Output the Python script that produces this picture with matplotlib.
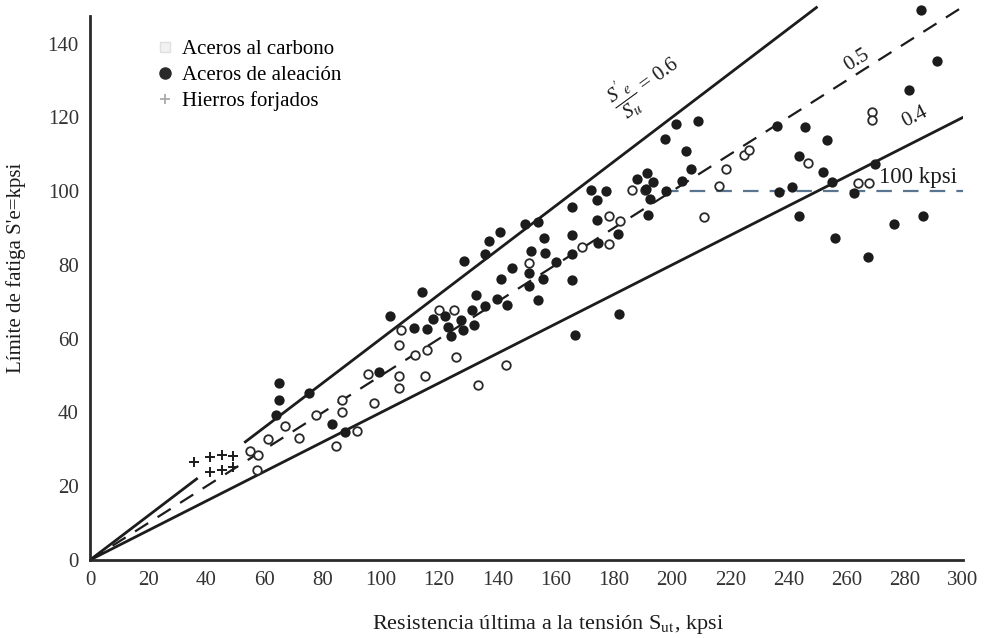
import matplotlib
matplotlib.use("Agg")
import matplotlib.pyplot as plt
from matplotlib.lines import Line2D
import numpy as np

plt.rcParams['font.family'] = ['Liberation Serif', 'DejaVu Serif']
plt.rcParams['mathtext.fontset'] = 'stix'

# ---------------- data ----------------
carbon_su = [57.3, 55.0, 57.9, 61.3, 67.1, 71.7, 77.5, 86.7, 86.7, 97.5, 91.7, 84.6, 95.5,
             106.1, 107.0, 111.8, 115.8, 125.9, 115.2, 106.1, 106.1, 120.0, 125.1, 133.5,
             143.1, 150.8, 169.1, 178.4, 178.3, 182.1, 186.1, 190.6, 210.9, 218.4, 216.1,
             224.7, 226.4, 246.8, 264.0, 267.8, 268.9, 268.9]
carbon_se = [24.4, 29.5, 28.5, 32.8, 36.2, 33.0, 39.3, 43.4, 40.1, 42.5, 34.9, 31.0, 50.3,
             58.2, 62.4, 55.6, 56.9, 55.1, 49.9, 49.9, 46.7, 67.9, 67.8, 47.4,
             52.8, 80.4, 84.9, 85.6, 93.3, 92.0, 100.3, 100.4, 92.9, 106.1, 101.4,
             109.8, 111.1, 107.5, 102.2, 102.2, 121.5, 119.3]

alloy_su = [63.8, 64.8, 64.8, 75.1, 83.3, 87.6, 99.2, 103.0, 114.2, 128.5, 135.9, 137.0,
            141.0, 149.6, 154.0, 155.9, 151.7, 156.5, 160.2, 150.9, 145.1, 141.2, 155.5,
            151.0, 154.0, 132.6, 139.8, 143.3, 135.9, 131.3, 117.9, 122.1, 127.5, 122.9,
            128.3, 131.9, 111.3, 115.8, 124.0, 165.7, 165.7, 165.7, 166.8, 181.8, 174.5,
            181.5, 165.7, 172.0, 177.2, 174.3, 174.3, 191.6, 188.0, 191.5, 193.4, 190.9,
            192.6, 197.8, 197.6, 201.3, 209.1, 204.7, 206.4, 203.5, 236.0, 245.6, 253.2,
            243.7, 252.0, 255.1, 269.7, 262.4, 236.8, 241.1, 243.7, 256.0, 267.4, 276.3,
            286.3, 281.3, 291.0, 285.5]
alloy_se = [39.3, 43.5, 47.9, 45.4, 36.8, 34.8, 51.0, 66.1, 72.6, 81.0, 82.9, 86.5,
            88.8, 91.1, 91.5, 87.3, 83.7, 83.1, 80.8, 77.9, 79.2, 76.2, 76.3,
            74.4, 70.6, 71.8, 70.7, 69.1, 68.9, 67.7, 65.3, 66.1, 65.1, 63.2,
            62.4, 63.8, 62.9, 62.5, 60.7, 75.9, 82.9, 88.0, 61.0, 66.8, 86.0,
            88.4, 95.6, 100.4, 100.1, 97.6, 92.2, 93.5, 103.4, 104.9, 102.5, 100.5,
            98.0, 100.1, 114.1, 118.3, 119.1, 110.9, 106.1, 102.8, 117.6, 117.3, 113.8,
            109.5, 105.2, 102.5, 107.3, 99.4, 99.8, 101.0, 93.2, 87.4, 82.2, 91.2,
            93.2, 127.4, 135.2, 149.1]

iron_su = [35.8, 41.4, 45.3, 49.3, 41.4, 45.3, 49.2]
iron_se = [26.6, 27.8, 28.6, 28.3, 23.8, 24.3, 25.3]

ratio_labels = ["0.6", "0.5", "0.4"]
ratios = [0.6, 0.5, 0.4]
limit_kpsi = 100
xticks = [0, 20, 40, 60, 80, 100, 120, 140, 160, 180, 200, 220, 240, 260, 280, 300]
yticks = [0, 20, 40, 60, 80, 100, 120, 140]

legend_labels = ["Aceros al carbono", "Aceros de aleación", "Hierros forjados"]

# ---------------- figure ----------------
W, H = 985, 638
fig = plt.figure(figsize=(W / 100, H / 100), dpi=100)
ax = fig.add_axes([90 / W, 78 / H, 873 / W, 557 / H])
ax.set_xlim(0, 300)
ax.set_ylim(0, 151)

ink = '#1c1c1c'

# reference lines
su_06a = np.array([0, 37])
su_06b = np.array([53, 250])
ax.plot(su_06a, ratios[0] * su_06a, color=ink, lw=2.0, solid_capstyle='butt')
ax.plot(su_06b, ratios[0] * su_06b, color=ink, lw=2.0, solid_capstyle='butt')
su_full = np.array([0, 300])
ax.plot(su_full, ratios[1] * su_full, color=ink, lw=1.6, dashes=(7, 5))
ax.plot(su_full, ratios[2] * su_full, color=ink, lw=2.0)
ax.plot([197, 300], [limit_kpsi, limit_kpsi], color='#5a7590', lw=1.6, dashes=(7, 5))

# data
ax.scatter(carbon_su, carbon_se, s=38, facecolors='white', edgecolors='#2a2a2a',
           linewidths=1.3, zorder=3)
ax.scatter(alloy_su, alloy_se, s=55, color=ink, zorder=4, linewidths=0)
ax.scatter(iron_su, iron_se, s=60, marker='+', color=ink, linewidths=1.4, zorder=4)

# annotations
ax.text(191, 129, r"$\dfrac{S'_e}{S_u}$ = 0.6", rotation=36, ha='center', va='center',
        rotation_mode='anchor', fontsize=15, color=ink)
ax.text(263.5, 135.5, ratio_labels[1], rotation=32, ha='center', va='center',
        rotation_mode='anchor', fontsize=15, color=ink)
ax.text(283.5, 120.0, ratio_labels[2], rotation=27, ha='center', va='center',
        rotation_mode='anchor', fontsize=15, color=ink)
ax.text(271.0, 100.8, "100 kpsi", ha='left', va='bottom', fontsize=16.5, color=ink)

# axes styling
for side in ['top', 'right']:
    ax.spines[side].set_visible(False)
for side in ['left', 'bottom']:
    ax.spines[side].set_linewidth(2.0)
    ax.spines[side].set_color('#2a2a2a')
ax.spines['left'].set_bounds(0, 147.5)
ax.set_xticks(xticks)
ax.set_yticks(yticks)
ax.tick_params(axis='both', length=0, labelsize=15, labelcolor='#333333')
ax.tick_params(axis='x', pad=8)
ax.tick_params(axis='y', pad=8)

ax.set_xlabel(r"Resistencia última a la tensión S$_{\mathrm{ut}}$, kpsi", fontsize=16, color=ink)
ax.xaxis.set_label_coords(0.525, -0.095)
ax.set_ylabel("Límite de fatiga S'e=kpsi", fontsize=15, color=ink)
ax.yaxis.set_label_coords(-0.073, 0.524)

handles = [
    Line2D([], [], marker='s', linestyle='none', markersize=7, markerfacecolor='#f2f2f2',
           markeredgecolor='#e0e0e0'),
    Line2D([], [], marker='o', linestyle='none', markersize=8, color='#2a2a2a'),
    Line2D([], [], marker='+', linestyle='none', markersize=7, color='#aaaaaa', markeredgewidth=1.3),
]
ax.legend(handles, legend_labels, loc='upper left', bbox_to_anchor=(0.06, 0.96),
          frameon=False, fontsize=15, handlelength=0.8, handletextpad=0.4,
          labelspacing=0.3, borderpad=0.2)

fig.savefig("out.png", dpi=100)
